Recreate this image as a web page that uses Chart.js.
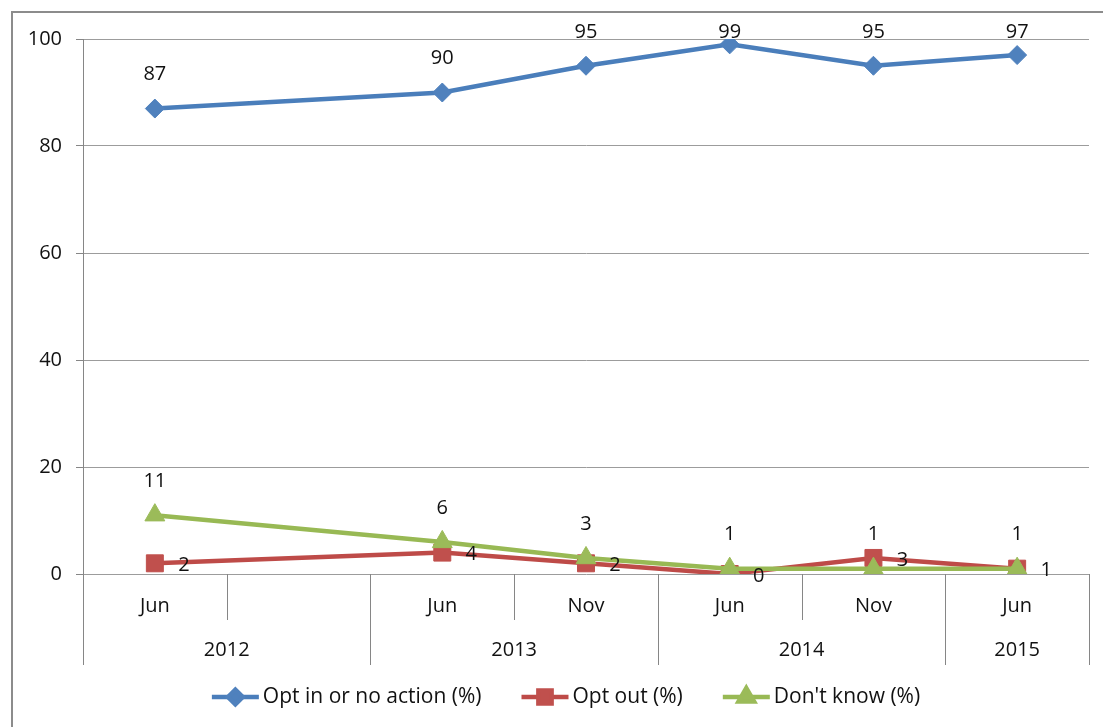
<!DOCTYPE html>
<html>
<head>
<meta charset="utf-8">
<script src="https://cdn.jsdelivr.net/npm/chart.js@4.4.1/dist/chart.umd.min.js"></script>
<style>
  html, body { margin: 0; padding: 0; background: #fff; overflow: hidden; width: 1103px; height: 727px; }
  #frame { position: absolute; left: 11px; top: 11px; width: 1106px; height: 716px;
           border-left: 2px solid #8c8c8c; border-top: 2px solid #8c8c8c; background: #fff; }
  #frame canvas { display: block; }
</style>
</head>
<body>
<div id="frame"><canvas id="chart" width="1106" height="716"></canvas></div>
<script>
// Survey waves: month row and the year row grouped beneath it
const monthLabels = ['Jun', '', 'Jun', 'Nov', 'Jun', 'Nov', 'Jun'];
const yearLabels = ['2012', '2013', '2014', '2015'];
const yearSpans = [2, 2, 2, 1];

// Responses per wave (%)
const optIn = [87, null, 90, 95, 99, 95, 97];
const optOut = [2, null, 4, 2, 0, 3, 1];
const dontKnow = [11, null, 6, 3, 1, 1, 1];

const seriesNames = ['Opt in or no action (%)', 'Opt out (%)', "Don't know (%)"];
const yTicks = [0, 20, 40, 60, 80, 100];

const FONT_FAMILY = "'Open Sans', 'Noto Sans', sans-serif";
const TEXT_COLOR = '#111';
Chart.defaults.font.family = FONT_FAMILY;
Chart.defaults.font.size = 20;
Chart.defaults.color = TEXT_COLOR;

// Two-row category axis: separators between waves, longer ones between years
const groupAxis = {
  id: 'groupAxis',
  afterDraw(chart) {
    const { ctx, chartArea: area, scales: { x } } = chart;
    const step = x.getPixelForValue(1) - x.getPixelForValue(0);
    const boundaries = new Set();
    let idx = 0;
    boundaries.add(0);
    yearSpans.forEach(s => { idx += s; boundaries.add(idx); });

    ctx.save();
    ctx.strokeStyle = '#868686';
    ctx.lineWidth = 1;
    for (let i = 0; i <= monthLabels.length; i++) {
      const px = Math.round(x.getPixelForValue(i) - step / 2) + 0.5;
      const end = boundaries.has(i) ? x.bottom : area.bottom + 46;
      ctx.beginPath();
      ctx.moveTo(px, area.bottom);
      ctx.lineTo(px, end);
      ctx.stroke();
    }

    ctx.fillStyle = TEXT_COLOR;
    ctx.font = '20px ' + FONT_FAMILY;
    ctx.textAlign = 'center';
    ctx.textBaseline = 'middle';
    let start = 0;
    yearLabels.forEach((label, g) => {
      const first = x.getPixelForValue(start) - step / 2;
      const last = x.getPixelForValue(start + yearSpans[g]) - step / 2;
      ctx.fillText(label, (first + last) / 2, area.bottom + 76);
      start += yearSpans[g];
    });
    ctx.restore();
  }
};

// Value labels next to each marker
const valueLabels = {
  id: 'valueLabels',
  afterDatasetsDraw(chart) {
    const { ctx, chartArea: area } = chart;
    ctx.save();
    ctx.fillStyle = TEXT_COLOR;
    ctx.font = '20px ' + FONT_FAMILY;
    ctx.textAlign = 'center';
    ctx.textBaseline = 'middle';
    chart.data.datasets.forEach((ds, i) => {
      const meta = chart.getDatasetMeta(i);
      meta.data.forEach((pt, j) => {
        const v = ds.data[j];
        if (v === null || v === undefined) return;
        let lx = pt.x, ly = pt.y;
        if (ds.labelPos === 'right') {
          lx += 29;
          ly += 2;
        } else {
          ly = Math.max(ly - 34, area.top - 7);
        }
        ctx.fillText(String(v), lx, ly);
      });
    });
    ctx.restore();
  }
};

// Legend row: line with marker, then series name
const seriesLegend = {
  id: 'seriesLegend',
  afterDraw(chart) {
    const { ctx } = chart;
    const y = chart.height - 32;
    const lineLen = 47, gap = 4, spacing = 40;
    ctx.save();
    ctx.font = '21px ' + FONT_FAMILY;
    const items = chart.data.datasets.map(ds => ({ ds, w: lineLen + gap + ctx.measureText(ds.label).width }));
    const total = items.reduce((s, it) => s + it.w, 0) + spacing * (items.length - 1);
    let x = chart.width / 2 - total / 2;
    items.forEach(({ ds, w }) => {
      ctx.strokeStyle = ds.borderColor;
      ctx.lineWidth = 4.5;
      ctx.beginPath();
      ctx.moveTo(x, y);
      ctx.lineTo(x + lineLen, y);
      ctx.stroke();
      ctx.fillStyle = ds.pointBackgroundColor;
      ctx.strokeStyle = ds.pointBackgroundColor;
      Chart.helpers.drawPoint(ctx, {
        pointStyle: ds.pointStyle, radius: ds.pointRadius * 0.78, borderWidth: 1, rotation: 0
      }, x + lineLen / 2, y);
      ctx.fillStyle = TEXT_COLOR;
      ctx.textAlign = 'left';
      ctx.textBaseline = 'middle';
      ctx.fillText(ds.label, x + lineLen + gap, y);
      x += w + spacing;
    });
    ctx.restore();
  }
};

new Chart(document.getElementById('chart'), {
  type: 'line',
  data: {
    labels: monthLabels,
    datasets: [
      {
        label: seriesNames[0], data: optIn, order: 3, labelPos: 'above',
        borderColor: '#4A7EBB', pointBackgroundColor: '#4F81BD', pointBorderColor: '#4F81BD',
        pointStyle: 'rectRot', pointRadius: 9.5, pointBorderWidth: 1, borderWidth: 4.5
      },
      {
        label: seriesNames[1], data: optOut, order: 2, labelPos: 'right',
        borderColor: '#BE4B48', pointBackgroundColor: '#C0504D', pointBorderColor: '#C0504D',
        pointStyle: 'rect', pointRadius: 12, pointBorderWidth: 1, borderWidth: 4.5
      },
      {
        label: seriesNames[2], data: dontKnow, order: 1, labelPos: 'above',
        borderColor: '#98B954', pointBackgroundColor: '#9BBB59', pointBorderColor: '#9BBB59',
        pointStyle: 'triangle', pointRadius: 11.5, pointBorderWidth: 1, borderWidth: 4.5
      }
    ]
  },
  options: {
    responsive: false,
    animation: false,
    spanGaps: true,
    layout: { padding: { left: 0, top: 24, right: 30, bottom: 64 } },
    plugins: { legend: { display: false }, tooltip: { enabled: false } },
    elements: { line: { tension: 0 } },
    scales: {
      x: {
        offset: true,
        grid: { display: false, drawTicks: false },
        border: { display: false },
        ticks: { padding: 20, autoSkip: false, maxRotation: 0, color: TEXT_COLOR, font: { size: 20 } },
        afterFit(scale) { scale.height = 91; }
      },
      y: {
        min: 0, max: 100,
        afterBuildTicks(scale) { scale.ticks = yTicks.map(v => ({ value: v })); },
        ticks: { padding: 14, color: TEXT_COLOR, font: { size: 20 } },
        grid: { color: '#9c9c9c', tickLength: 7, tickColor: '#868686' },
        border: { color: '#868686' },
        afterFit(scale) { scale.width = 70; }
      }
    }
  },
  plugins: [groupAxis, valueLabels, seriesLegend]
});
</script>
</body>
</html>
